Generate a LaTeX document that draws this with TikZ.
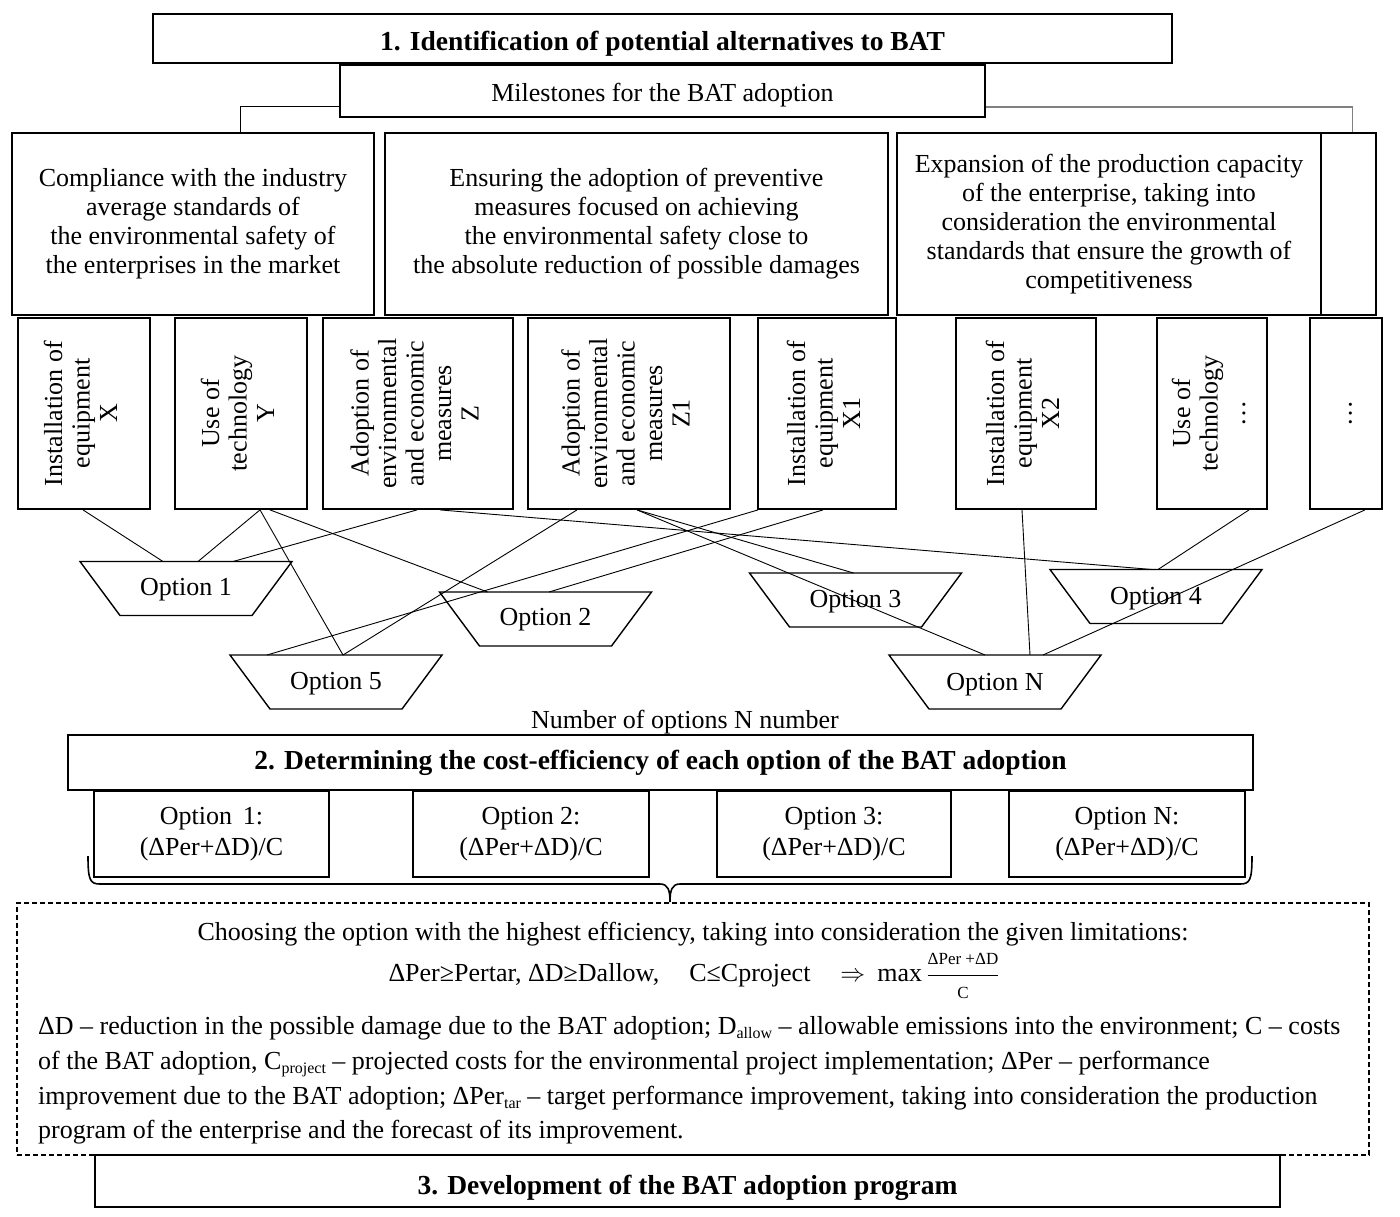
\documentclass[tikz,border=0pt]{standalone}
\usepackage{fontspec}
\setmainfont{Liberation Serif}
\newcommand\myfs{\fontsize{26}{29}\selectfont}
\newcommand\myfb{\fontsize{27.5}{30}\selectfont\bfseries}
\newcommand\myfv{\fontsize{26}{27.5}\selectfont}
\newcommand\myfo{\fontsize{26}{31}\selectfont}
\newcommand\mysm{\fontsize{17}{18}\selectfont}
\newcommand\mysb[1]{\raisebox{-0.35ex}{\fontsize{16}{16}\selectfont #1}}
\newcommand\vtext[1]{\rotatebox{90}{\myfv\begin{tabular}{@{}c@{}}#1\end{tabular}}}
\begin{document}
\begin{tikzpicture}[x=1pt,y=-1pt,
  box/.style={draw, line width=1.6pt, inner sep=0pt, align=center, font=\myfs, fill=white},
  vbox/.style={draw, line width=1.8pt, inner sep=0pt, minimum height=191},
  obox/.style={draw, line width=1.4pt, inner sep=0pt, align=center, font=\myfo, minimum height=86},
  trap/.style={inner sep=0pt, font=\myfs},
  trapline/.style={line width=1.4pt},
  conn/.style={line width=0.9pt},
  ptext/.style={anchor=base west, inner sep=0pt, font=\myfs}
]
\useasboundingbox (0,0) rectangle (1400,1216);

% ---- stage 1
\node[box, minimum width=1019, minimum height=49, font=\myfb, text height=27, text depth=3] (t1) at (662.5,38.5) {1. Identification of potential alternatives to BAT};
\node[box, minimum width=645, minimum height=52, text height=25, text depth=4] (ms) at (662.5,91) {Milestones for the BAT adoption};

\node[box, minimum width=362, minimum height=182] (A) at (193,224) {Compliance with the industry\\average standards of\\the environmental safety of\\the enterprises in the market};
\node[box, minimum width=503, minimum height=182] (B) at (636.5,224) {Ensuring the adoption of preventive\\measures focused on achieving\\the environmental safety close to\\the absolute reduction of possible damages};
\node[box, minimum width=424, minimum height=182] (C) at (1109,224) {Expansion of the production capacity\\of the enterprise, taking into\\consideration the environmental\\standards that ensure the growth of\\competitiveness};
\node[box, minimum width=55, minimum height=182] (D) at (1348.5,224) {};

\draw[line width=1pt] ([yshift=-15]ms.west) -| ([xshift=47]A.north);
\draw[line width=1.5pt, gray] ([yshift=-16]ms.east) -| ([xshift=4]D.north);

% ---- measures
\node[vbox, minimum width=132] (b1) at (84,413.5) {\vtext{Installation of\\equipment\\X}};
\node[vbox, minimum width=132] (b2) at (241,413.5) {\vtext{Use of\\technology\\Y}};
\node[vbox, minimum width=190] (b3) at (418,413.5) {\vtext{Adoption of\\environmental\\and economic\\measures\\Z}};
\node[vbox, minimum width=202] (b4) at (629,413.5) {\vtext{Adoption of\\environmental\\and economic\\measures\\Z1}};
\node[vbox, minimum width=138] (b5) at (827,413.5) {\vtext{Installation of\\equipment\\X1}};
\node[vbox, minimum width=140] (b6) at (1026,413.5) {\vtext{Installation of\\equipment\\X2}};
\node[vbox, minimum width=110] (b7) at (1212,413.5) {\vtext{Use of\\technology\\…}};
\node[vbox, minimum width=72] (b8) at (1346,413.5) {\vtext{…}};

% ---- options
\node[trap] (o1) at (186,590) {Option 1};
\node[trap] (o2) at (545.5,619.5) {Option 2};
\node[trap] (o3) at (855.5,601.5) {Option 3};
\node[trap] (o4) at (1156,599) {Option 4};
\node[trap] (o5) at (336,684) {Option 5};
\node[trap] (oN) at (995,684.5) {Option N};
\foreach \n/\dy in {o1/-28.5,o2/-27.5,o3/-28.5,o4/-29.5,o5/-29,oN/-29.5}{
  \draw[trapline] ([shift={(-106,\dy)}]\n.center) -- ++(212,0) -- ++(-40,54) -- ++(-132,0) -- cycle;
}

% ---- connectors
\draw[conn] ([xshift=-1]b1.south) -- ([shift={(-23,-28.5)}]o1.center);
\draw[conn] ([xshift=19]b2.south) -- ([shift={(12,-28.5)}]o1.center);
\draw[conn] ([xshift=29]b2.south) -- ([shift={(-58,-27.5)}]o2.center);
\draw[conn] ([xshift=19]b2.south) -- ([shift={(7,-29)}]o5.center);
\draw[conn] ([xshift=-1]b3.south) -- ([shift={(47,-28.5)}]o1.center);
\draw[conn] ([xshift=22]b3.south) -- ([shift={(-4,-29.5)}]o4.center);
\draw[conn] ([xshift=-52]b4.south) -- ([shift={(7,-29)}]o5.center);
\draw[conn] ([xshift=8]b4.south) -- ([shift={(-2,-28.5)}]o3.center);
\draw[conn] ([xshift=8]b4.south) -- ([shift={(-10,-29.5)}]oN.center);
\draw[conn] ([xshift=-69]b5.south) -- ([shift={(-69,-29)}]o5.center);
\draw[conn] ([xshift=-4]b5.south) -- ([shift={(3.5,-27.5)}]o2.center);
\draw[conn] ([xshift=-4]b6.south) -- ([shift={(35,-29.5)}]oN.center);
\draw[conn] ([xshift=37]b7.south) -- ([shift={(2,-29.5)}]o4.center);
\draw[conn] ([xshift=19]b8.south) -- ([shift={(48,-29.5)}]oN.center);

\node[font=\myfs, inner sep=0pt] (num) at (685,722) {Number of options N number};

% ---- stage 2
\node[box, minimum width=1185, minimum height=55, font=\myfb] (t2) at (660.5,762.5) {2. Determining the cost-efficiency of each option of the BAT adoption};
\node[obox, minimum width=235] (e1) at (211.5,834) {Option\, 1:\\(ΔPer+ΔD)/C};
\node[obox, minimum width=236] (e2) at (531,834) {Option 2:\\(ΔPer+ΔD)/C};
\node[obox, minimum width=234] (e3) at (834,834) {Option 3:\\(ΔPer+ΔD)/C};
\node[obox, minimum width=236] (e4) at (1127,834) {Option N:\\(ΔPer+ΔD)/C};

\draw[line width=1.6pt] (88,856) .. controls (88,880) and (90,884) .. (100,884) -- (660,884)
  .. controls (668,884) and (670,890) .. (670,902) .. controls (670,890) and (672,884) .. (680,884)
  -- (1240,884) .. controls (1250,884) and (1252,880) .. (1252,856);

% ---- stage 3
\node[box, minimum width=1185, minimum height=52, font=\myfb, text height=28, text depth=2] (t3) at (687.5,1181) {3. Development of the BAT adoption program};
\node[draw, dashed, dash pattern=on 5pt off 3pt, line width=1.6pt, minimum width=1352, minimum height=252, inner sep=0pt] (sel) at (693,1029) {};

\node[font=\myfs, inner sep=0pt] (ch) at (693,934) {Choosing the option with the highest efficiency, taking into consideration the given limitations:};
\node[font=\myfs, inner sep=0pt, anchor=base] (fm) at (694,981) {ΔPer≥Pertar, ΔD≥Dallow,\hspace{30pt}C≤Cproject\hspace{30pt}$\Rightarrow$\hspace{12pt}max\,$\displaystyle\frac{\mbox{\mysm ΔPer +ΔD}}{\mbox{\mysm C}}$};

\node[ptext] (p1) at (38,1034) {ΔD – reduction in the possible damage due to the BAT adoption; D\mysb{allow} – allowable emissions into the environment; C – costs};
\node[ptext] (p2) at (38,1069) {of the BAT adoption, C\mysb{project} – projected costs for the environmental project implementation; ΔPer – performance};
\node[ptext] (p3) at (38,1104) {improvement due to the BAT adoption; ΔPer\mysb{tar} – target performance improvement, taking into consideration the production};
\node[ptext] (p4) at (38,1138) {program of the enterprise and the forecast of its improvement.};
\end{tikzpicture}
\end{document}
